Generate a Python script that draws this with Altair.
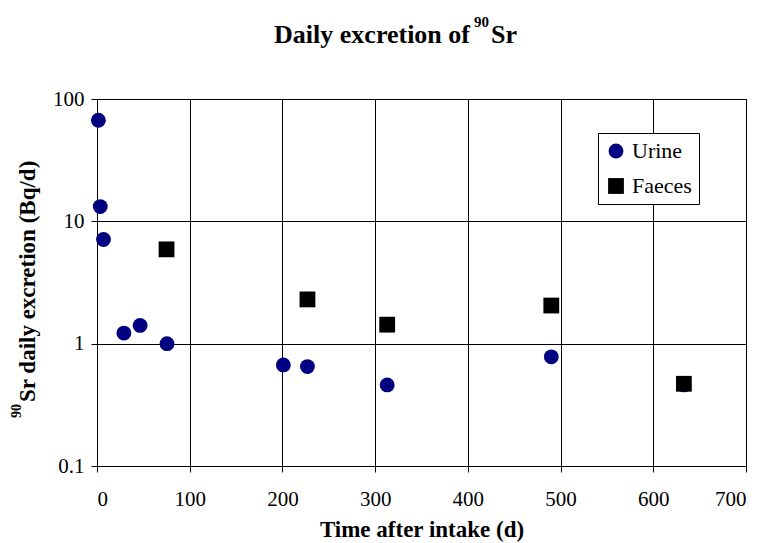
import altair as alt
import pandas as pd

urine_t = [1.5, 3.5, 7, 29, 46.5, 75.5, 201, 227, 313, 490, 633]
urine_v = [67, 13.2, 7.1, 1.22, 1.41, 1.0, 0.67, 0.65, 0.46, 0.78, 0.46]
faeces_t = [75, 227, 313, 490, 633]
faeces_v = [5.9, 2.3, 1.43, 2.05, 0.47]
series = ["Urine", "Faeces"]
colors = ["#000080", "#000000"]
shapes = ["circle", "square"]
x_ticks = [0, 100, 200, 300, 400, 500, 600, 700]
y_ticks = [0.1, 1, 10, 100]

rows = [{"t": t, "v": v, "s": "Urine", "o": 0} for t, v in zip(urine_t, urine_v)]
rows += [{"t": t, "v": v, "s": "Faeces", "o": 1} for t, v in zip(faeces_t, faeces_v)]
df = pd.DataFrame(rows)

FONT = "Liberation Serif"

points = alt.Chart(df).mark_point(filled=True, opacity=1).encode(
    x=alt.X("t:Q", scale=alt.Scale(domain=[0, 700], nice=False),
            axis=alt.Axis(values=x_ticks, title="Time after intake (d)", grid=True,
                          gridColor="#000000", gridOpacity=1, gridWidth=1,
                          domainColor="#000000", tickColor="#000000", tickSize=6,
                          labelFont=FONT, labelFontSize=21, labelColor="#000000",
                          labelPadding=16,
                          titleFont=FONT, titleFontSize=23, titleFontWeight="bold",
                          titleColor="#000000", titlePadding=9)),
    y=alt.Y("v:Q", scale=alt.Scale(type="log", domain=[0.1, 100], nice=False),
            axis=alt.Axis(values=y_ticks, format="~g", title=None,
                          grid=True, gridColor="#000000", gridOpacity=1, gridWidth=1,
                          domainColor="#000000", tickColor="#000000", tickSize=6,
                          labelFont=FONT, labelFontSize=21, labelColor="#000000",
                          labelPadding=7)),
    color=alt.Color("s:N", scale=alt.Scale(domain=series, range=colors),
                    legend=alt.Legend(title=None, orient="none", legendX=501, legendY=34,
                                      strokeColor="#000000", fillColor="#ffffff",
                                      padding=7, rowPadding=13, symbolSize=220,
                                      labelFont=FONT, labelFontSize=22, labelColor="#000000",
                                      labelOffset=5, symbolStrokeWidth=0)),
    shape=alt.Shape("s:N", scale=alt.Scale(domain=series, range=shapes), legend=None),
    size=alt.Size("s:N", scale=alt.Scale(domain=series, range=[220, 250]), legend=None),
    order=alt.Order("o:Q"),
)

def txt(s, x, y, size, align="left", angle=0):
    return alt.Chart(pd.DataFrame({"s": [s]})).mark_text(
        font=FONT, fontSize=size, fontWeight="bold", color="#000000",
        align=align, baseline="alphabetic", angle=angle,
    ).encode(text="s:N", x=alt.value(x), y=alt.value(y))

title_main = ["Daily excretion of", "90", "Sr"]
ytitle = ["90", "Sr daily excretion (Bq/d)"]

layers = [
    points,
    txt(title_main[0], 373, -56, 26, align="right"),
    txt(title_main[1], 377, -72, 15),
    txt(title_main[2], 394, -56, 26),
    txt(ytitle[0], -76, 319, 14, angle=270),
    txt(ytitle[1], -62, 303, 23, angle=270),
]

chart = alt.layer(*layers).properties(
    width=649, height=367,
    autosize=alt.AutoSizeParams(type="none"),
    padding={"left": 89, "top": 91, "right": 10, "bottom": 77},
).configure_view(stroke="#000000", strokeWidth=1)

chart.save("out.html", embed_options={"renderer": "svg", "actions": False})
